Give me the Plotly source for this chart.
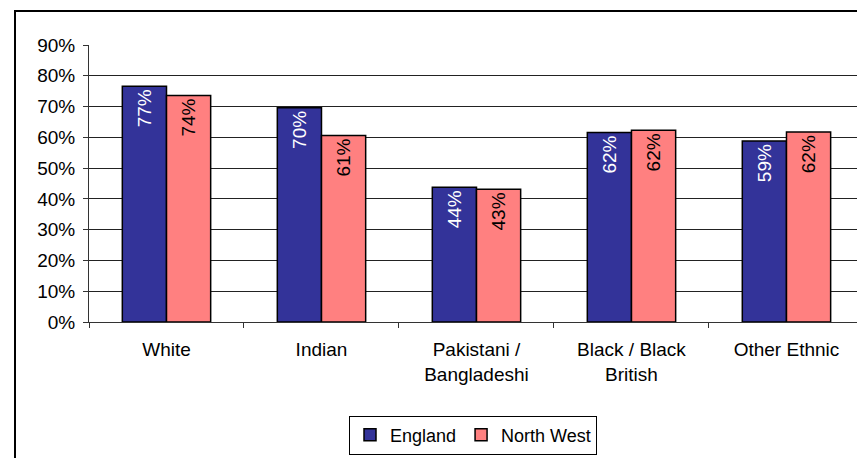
import plotly.graph_objects as go

# Employment rates by ethnic group (%)
categories = ["White", "Indian", "Pakistani /<br>Bangladeshi", "Black / Black<br>British", "Other Ethnic"]
england = [76.6, 69.6, 43.8, 61.6, 58.8]
north_west = [73.6, 60.6, 43.1, 62.3, 61.7]
y_ticks = [0, 10, 20, 30, 40, 50, 60, 70, 80, 90]
y_tick_labels = [f"{v}%" for v in y_ticks]

FONT = "Liberation Sans, Arial, sans-serif"
W, H = 857, 458
L, R, T, B = 89, 0, 45, 136

fig = go.Figure()
fig.add_trace(go.Bar(
    name="England", x=categories, y=england,
    marker=dict(color="#333399", line=dict(color="black", width=1.5)),
    texttemplate="%{y:.0f}%", textposition="inside", insidetextanchor="end",
    textangle=-90, textfont=dict(color="white", size=19, family=FONT),
    constraintext="none",
))
fig.add_trace(go.Bar(
    name="North West", x=categories, y=north_west,
    marker=dict(color="#FF8080", line=dict(color="black", width=1.5)),
    texttemplate="%{y:.0f}%", textposition="inside", insidetextanchor="end",
    textangle=-90, textfont=dict(color="black", size=19, family=FONT),
    constraintext="none",
))

pw = W - L - R
ph = H - T - B

def px_x(p):
    return (p - L) / pw

def px_y(p):
    return (H - B - p) / ph

fig.update_layout(
    width=W, height=H,
    margin=dict(l=L, r=R, t=T, b=B),
    paper_bgcolor="white", plot_bgcolor="white",
    font=dict(family=FONT, size=19, color="black"),
    barmode="group", bargap=0.43, bargroupgap=0,
    showlegend=True,
    legend=dict(
        orientation="h", x=0.5, xanchor="center", y=px_y(435), yanchor="middle",
        bordercolor="black", borderwidth=1, bgcolor="white",
        font=dict(size=18, family=FONT), itemwidth=30,
    ),
    xaxis=dict(
        range=[-0.5, 4.455], showgrid=False, showline=True, linecolor="#333",
        linewidth=1, ticks="outside", ticklen=5, tickcolor="#333",
        tickson="boundaries", tickfont=dict(size=19), ticklabelstandoff=10,
    ),
    yaxis=dict(
        range=[0, 90], tickmode="array", tickvals=y_ticks, ticktext=y_tick_labels,
        showgrid=True, gridcolor="#222", gridwidth=1, showline=True,
        linecolor="#333", linewidth=1, ticks="outside", ticklen=5,
        tickcolor="#333", zeroline=False, tickfont=dict(size=19),
        ticklabelstandoff=4,
    ),
    shapes=[
        # outer chart frame
        dict(type="rect", xref="paper", yref="paper",
             x0=px_x(15), x1=px_x(W + 20), y0=px_y(H + 20), y1=px_y(11),
             line=dict(color="black", width=2), fillcolor="rgba(0,0,0,0)",
             layer="above"),
    ],
)

fig.write_html("out.html")
